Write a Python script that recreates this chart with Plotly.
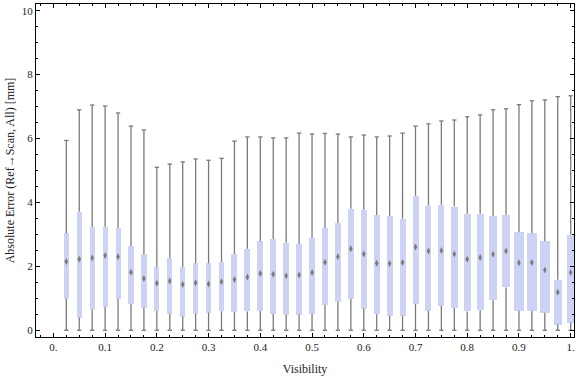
import plotly.graph_objects as go

visibility = [0.025, 0.05, 0.075, 0.1, 0.125, 0.15, 0.175, 0.2, 0.225, 0.25,
              0.275, 0.3, 0.325, 0.35, 0.375, 0.4, 0.425, 0.45, 0.475, 0.5,
              0.525, 0.55, 0.575, 0.6, 0.625, 0.65, 0.675, 0.7, 0.725, 0.75,
              0.775, 0.8, 0.825, 0.85, 0.875, 0.9, 0.925, 0.95, 0.975, 1.0]
whisker_low = [0.0] * 40
q1 = [0.99, 0.40, 0.64, 0.74, 0.99, 0.83, 0.71, 0.60, 0.52, 0.43,
      0.52, 0.55, 0.60, 0.58, 0.59, 0.60, 0.52, 0.49, 0.49, 0.52,
      0.80, 0.89, 0.99, 0.68, 0.50, 0.46, 0.46, 0.83, 0.61, 0.77,
      0.70, 0.59, 0.63, 0.94, 1.34, 0.61, 0.61, 0.55, 0.18, 0.24]
median = [2.15, 2.22, 2.26, 2.34, 2.30, 1.82, 1.62, 1.47, 1.54, 1.43,
          1.49, 1.45, 1.52, 1.59, 1.67, 1.78, 1.75, 1.71, 1.73, 1.81,
          2.13, 2.30, 2.55, 2.39, 2.10, 2.09, 2.12, 2.61, 2.48, 2.50,
          2.39, 2.22, 2.28, 2.38, 2.48, 2.11, 2.12, 1.89, 1.19, 1.81]
q3 = [3.04, 3.71, 3.23, 3.24, 3.20, 2.63, 2.38, 1.97, 2.27, 1.98,
      2.10, 2.10, 2.14, 2.39, 2.55, 2.79, 2.86, 2.74, 2.70, 2.89,
      3.20, 3.36, 3.80, 3.77, 3.61, 3.58, 3.49, 4.21, 3.90, 3.93,
      3.87, 3.65, 3.65, 3.58, 3.61, 3.07, 3.04, 2.79, 1.58, 2.99]
whisker_high = [5.94, 6.90, 7.05, 7.02, 6.80, 6.39, 6.27, 5.10, 5.20, 5.27,
                5.36, 5.32, 5.38, 5.92, 6.05, 6.05, 6.02, 6.02, 6.17, 6.14,
                6.16, 6.14, 6.05, 6.11, 6.05, 6.08, 6.17, 6.39, 6.46, 6.55,
                6.58, 6.68, 6.74, 6.90, 6.93, 7.06, 7.18, 7.21, 7.31, 7.34]
box_width = [0.0098, 0.0098, 0.0098, 0.0098, 0.0098, 0.0100, 0.0100, 0.0100, 0.0100, 0.0105,
             0.0110, 0.0112, 0.0115, 0.0115, 0.0118, 0.0116, 0.0116, 0.0116, 0.0116, 0.0118,
             0.0116, 0.0116, 0.0116, 0.0116, 0.0116, 0.0116, 0.0116, 0.0116, 0.0116, 0.0116,
             0.0130, 0.0135, 0.0141, 0.0155, 0.0170, 0.0190, 0.0198, 0.0206, 0.0160, 0.0125]

x_ticks = [0.0, 0.1, 0.2, 0.3, 0.4, 0.5, 0.6, 0.7, 0.8, 0.9, 1.0]
x_tick_text = ["0.", "0.1", "0.2", "0.3", "0.4", "0.5", "0.6", "0.7", "0.8", "0.9", "1."]
y_ticks = [0, 2, 4, 6, 8, 10]

CAP = 0.0042
wx, wy = [], []
for x, lo, a, b, hi in zip(visibility, whisker_low, q1, q3, whisker_high):
    wx += [x, x, None, x, x, None, x - CAP, x + CAP, None, x - CAP, x + CAP, None]
    wy += [lo, a, None, b, hi, None, lo, lo, None, hi, hi, None]

fig = go.Figure()
fig.add_trace(go.Bar(
    x=visibility, base=q1, y=[b - a for a, b in zip(q1, q3)], width=box_width,
    marker=dict(color="rgb(205,211,245)", line=dict(width=0)),
    hoverinfo="skip", showlegend=False))
fig.add_trace(go.Scatter(
    x=wx, y=wy, mode="lines", line=dict(color="#7a7a7a", width=1.3),
    hoverinfo="skip", showlegend=False))
fig.add_trace(go.Scatter(
    x=visibility, y=median, mode="markers",
    marker=dict(symbol="diamond-tall", size=5, color="#7a7a7a"),
    showlegend=False))

font = dict(family="Liberation Serif, Times New Roman, serif", size=11, color="#222222")
fig.update_layout(
    width=576, height=377,
    margin=dict(l=36, r=2, t=4, b=40),
    paper_bgcolor="white", plot_bgcolor="white",
    font=font,
    bargap=0,
    xaxis=dict(
        range=[-0.0336, 1.0064], showgrid=False, zeroline=False, automargin=False,
        showline=True, linecolor="black", linewidth=1, mirror="ticks",
        ticks="inside", ticklen=4, tickcolor="black",
        tickvals=x_ticks, ticktext=x_tick_text,
        minor=dict(dtick=0.025, tick0=0, ticks="inside", ticklen=2, tickcolor="black"),
        title=dict(text="Visibility", font=dict(size=12), standoff=12),
    ),
    yaxis=dict(
        range=[-0.21, 10.21], showgrid=False, zeroline=False, automargin=False,
        showline=True, linecolor="black", linewidth=1, mirror="ticks",
        ticks="inside", ticklen=4, tickcolor="black",
        tickvals=y_ticks,
        minor=dict(dtick=0.5, tick0=0, ticks="inside", ticklen=2, tickcolor="black"),
        title=dict(text="Absolute Error (Ref\u2192Scan, All) [mm]", font=dict(size=12), standoff=4),
    ),
)
fig.write_html("out.html", config={"displayModeBar": False},
               post_script="document.body.style.margin='0px';")
